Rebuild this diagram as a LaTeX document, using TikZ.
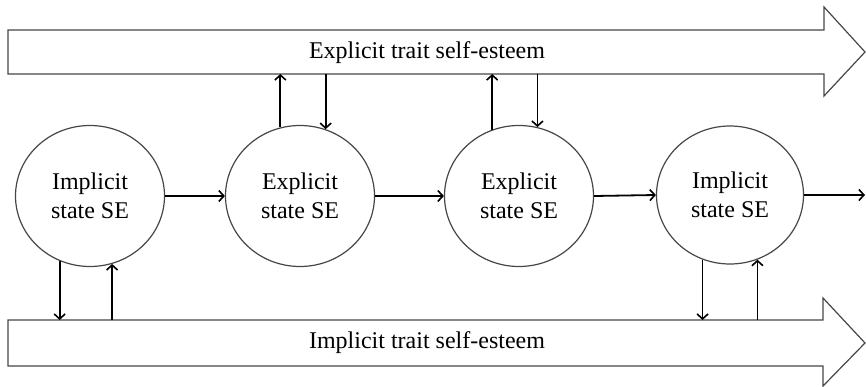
\documentclass[tikz,border=0pt]{standalone}
\usepackage{fontspec}
\setmainfont{Liberation Serif}
\usetikzlibrary{shapes.geometric,arrows.meta}
\tikzset{
  outline/.style={draw=black!72, line width=1.2pt, fill=white},
  state/.style={outline, ellipse, minimum width=149pt, minimum height=141pt, inner sep=0pt, align=center, font=\fontsize{24}{29}\selectfont},
  lbl/.style={font=\fontsize{24}{29}\selectfont, inner sep=0pt},
  arr/.style={draw=black, line width=1.8pt, -{Straight Barb[length=5pt,width=11pt,line width=1.6pt]}}
}
\begin{document}
\begin{tikzpicture}[x=1pt,y=-1pt]
\useasboundingbox (0,0) rectangle (866,387);
% top trait arrow
\coordinate (tA) at (8,30);
\coordinate (tB) at (824,30);
\coordinate (tC) at (824,7);
\coordinate (tTip) at (865,52);
\coordinate (tD) at (824,96);
\coordinate (tE) at (824,74);
\coordinate (tF) at (8,74);
\draw[outline] (tA) -- (tB) -- (tC) -- (tTip) -- (tD) -- (tE) -- (tF) -- cycle;
\node[lbl] (toplbl) at (427,53) {Explicit trait self-esteem};
% bottom trait arrow
\coordinate (bA) at (8,320);
\coordinate (bB) at (823,320);
\coordinate (bC) at (823,298);
\coordinate (bTip) at (865,343);
\coordinate (bD) at (823,386);
\coordinate (bE) at (823,366);
\coordinate (bF) at (8,366);
\draw[outline] (bA) -- (bB) -- (bC) -- (bTip) -- (bD) -- (bE) -- (bF) -- cycle;
\node[lbl] (botlbl) at (427,343) {Implicit trait self-esteem};
% states
\node[state] (c1) at (90,196) {Implicit\\state SE};
\node[state] (c2) at (300,196) {Explicit\\state SE};
\node[state] (c3) at (519,196) {Explicit\\state SE};
\node[state, minimum width=147pt, minimum height=138pt] (c4) at (730,195) {Implicit\\state SE};
\coordinate (out) at (865,195);
% horizontal connectors
\draw[arr] (c1.east) -- (c2.west);
\draw[arr] (c2.east) -- (c3.west);
\draw[arr] (c3.east) -- (c4.west);
\draw[arr] (c4.east) -- (out);
% vertical connectors to/from top
\draw[arr] (c2.106) -- (c2.106 |- tF);
\draw[arr] (c2.69 |- tF) -- (c2.69);
\draw[arr] (c3.112) -- (c3.112 |- tF);
\draw[arr] (c3.75 |- tF) -- (c3.75);
% vertical connectors to/from bottom
\draw[arr] (c1.245) -- (c1.245 |- bA);
\draw[arr] (c1.288 |- bA) -- (c1.288);
\draw[arr] (c4.247) -- (c4.247 |- bA);
\draw[arr] (c4.293 |- bA) -- (c4.293);
\end{tikzpicture}
\end{document}
